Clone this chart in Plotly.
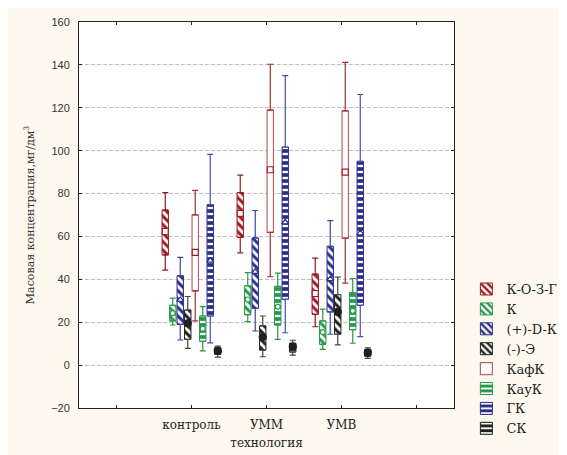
import plotly.graph_objects as go

categories = ["контроль", "УММ", "УМВ"]
tick_labels = ["", "контроль", "УММ", "УМВ", ""]
series = ["К-О-З-Г", "К", "(+)-D-К", "(-)-Э", "КафК", "КауК", "ГК", "СК"]

# per series: values per category [контроль, УММ, УМВ]
minimum = {
    "К-О-З-Г": [44.3, 52.3, 17.9],
    "К": [18.7, 20.3, 7.3],
    "(+)-D-К": [11.7, 15.9, 14.4],
    "(-)-Э": [7.8, 3.9, 9.4],
    "КафК": [20.6, 41.2, 38.2],
    "КауК": [6.6, 12.0, 10.2],
    "ГК": [10.4, 15.1, 13.3],
    "СК": [3.7, 4.7, 3.1],
}
q1 = {
    "К-О-З-Г": [51.4, 59.6, 23.7],
    "К": [20.6, 23.5, 9.7],
    "(+)-D-К": [19.0, 26.5, 24.8],
    "(-)-Э": [12.0, 7.0, 14.4],
    "КафК": [34.6, 61.9, 59.2],
    "КауК": [11.1, 18.7, 16.5],
    "ГК": [22.9, 30.7, 27.9],
    "СК": [5.0, 6.1, 4.2],
}
median = {
    "К-О-З-Г": [62.3, 70.8, 33.4],
    "К": [24.2, 30.6, 15.4],
    "(+)-D-К": [30.4, 43.5, 40.1],
    "(-)-Э": [19.5, 13.1, 24.8],
    "КафК": [52.6, 91.1, 90.0],
    "КауК": [17.0, 27.3, 25.3],
    "ГК": [48.7, 66.6, 61.5],
    "СК": [6.6, 8.6, 5.8],
}
q3 = {
    "К-О-З-Г": [72.3, 80.4, 42.4],
    "К": [27.9, 37.0, 20.6],
    "(+)-D-К": [41.7, 59.3, 55.4],
    "(-)-Э": [25.7, 18.3, 32.9],
    "КафК": [70.1, 118.9, 118.6],
    "КауК": [22.9, 36.7, 33.8],
    "ГК": [74.8, 101.7, 95.0],
    "СК": [8.1, 10.2, 7.3],
}
maximum = {
    "К-О-З-Г": [80.4, 88.6, 49.9],
    "К": [31.2, 43.1, 26.1],
    "(+)-D-К": [50.2, 72.1, 67.4],
    "(-)-Э": [32.0, 22.9, 41.0],
    "КафК": [81.5, 140.3, 141.2],
    "КауК": [27.3, 42.9, 40.4],
    "ГК": [98.3, 135.0, 126.2],
    "СК": [8.9, 11.6, 8.1],
}

red = "#9e1b24"
green = "#27994a"
navy = "#2b2f8c"
black = "#202020"
pink = "#c06468"

style = {
    "К-О-З-Г": dict(color=red, shape="\\", edge=red, whisk="#8e1a1e", sym="square", mfill="white", mline=red, msize=6),
    "К": dict(color=green, shape="\\", edge=green, whisk=green, sym="circle", mfill="white", mline=green, msize=5),
    "(+)-D-К": dict(color=navy, shape="\\", edge=navy, whisk="#3f43a0", sym="triangle-up", mfill="white", mline=navy, msize=6),
    "(-)-Э": dict(color=black, shape="\\", edge=black, whisk="#444444", sym="circle", mfill=black, mline=black, msize=7),
    "КафК": dict(color="white", shape="", edge=pink, whisk="#a03036", sym="square", mfill="white", mline=red, msize=6),
    "КауК": dict(color=green, shape="-", edge=green, whisk=green, sym="circle", mfill="white", mline=green, msize=5),
    "ГК": dict(color=navy, shape="-", edge=navy, whisk="#4a4ea6", sym="triangle-up", mfill="white", mline=navy, msize=6),
    "СК": dict(color=black, shape="-", edge=black, whisk="#444444", sym="circle", mfill=black, mline=black, msize=7),
}

serif = "DejaVu Serif"
fig = go.Figure()
n = len(series)
for i, s in enumerate(series):
    st = style[s]
    xs = [c + 1 + (i - (n - 1) / 2) * 0.1 for c in range(len(categories))]
    heights = [b - a for a, b in zip(q1[s], q3[s])]
    if st["shape"]:
        if st["shape"] == "\\":
            pattern = dict(shape="\\", fgcolor=st["color"], bgcolor="white",
                           size=6, solidity=0.5, fillmode="replace")
        else:
            pattern = dict(shape="-", fgcolor=st["color"], bgcolor="white",
                           size=6, solidity=0.62, fillmode="replace")
        mk = dict(color=st["color"], pattern=pattern, line=dict(color=st["edge"], width=1))
    else:
        mk = dict(color="white", line=dict(color=st["edge"], width=1.2))
    fig.add_trace(go.Bar(x=xs, y=heights, base=q1[s], width=0.085, name=s,
                         marker=mk, hoverinfo="skip"))
    # upper whisker
    fig.add_trace(go.Scatter(
        x=xs, y=q3[s], mode="markers", marker=dict(color="rgba(0,0,0,0)", size=1),
        error_y=dict(type="data", symmetric=False,
                     array=[b - a for a, b in zip(q3[s], maximum[s])],
                     arrayminus=[0] * len(xs), color=st["whisk"], thickness=1.2, width=3),
        showlegend=False, hoverinfo="skip"))
    # lower whisker
    fig.add_trace(go.Scatter(
        x=xs, y=q1[s], mode="markers", marker=dict(color="rgba(0,0,0,0)", size=1),
        error_y=dict(type="data", symmetric=False,
                     array=[0] * len(xs),
                     arrayminus=[a - b for a, b in zip(q1[s], minimum[s])],
                     color=st["whisk"], thickness=1.2, width=3),
        showlegend=False, hoverinfo="skip"))
    # median marker
    fig.add_trace(go.Scatter(
        x=xs, y=median[s], mode="markers",
        marker=dict(symbol=st["sym"], size=st["msize"], color=st["mfill"],
                    line=dict(color=st["mline"], width=1.2)),
        showlegend=False, hoverinfo="skip"))

fig.update_layout(
    width=559, height=447,
    margin=dict(l=71, r=113, t=14, b=47, autoexpand=False),
    paper_bgcolor="#fef9ee",
    plot_bgcolor="white",
    barmode="overlay",
    showlegend=True,
    legend=dict(x=1.033, y=0.347, xanchor="left", yanchor="top",
                font=dict(family=serif, size=13, color="#222"),
                bgcolor="rgba(0,0,0,0)", tracegroupgap=0, itemwidth=30),
    font=dict(family=serif, color="#222"),
)
fig.update_xaxes(
    range=[-0.5, 4.5], tickvals=list(range(len(tick_labels))), ticktext=tick_labels,
    showgrid=False, zeroline=False, showline=True, linecolor="#222", linewidth=1,
    mirror="ticks", ticks="inside", ticklen=3, tickcolor="#222", ticklabelstandoff=6,
    tickfont=dict(family=serif, size=12, color="#222"),
    title=dict(text="технология", font=dict(family=serif, size=12, color="#222"), standoff=7),
    automargin=False,
)
fig.update_yaxes(
    range=[-20, 160], dtick=20, showgrid=True, gridcolor="#bdbdbd", griddash="4px,2px",
    gridwidth=1, zeroline=False, showline=True, linecolor="#222", linewidth=1,
    mirror="ticks", ticks="inside", ticklen=3, tickcolor="#222", ticklabelstandoff=6,
    tickfont=dict(family="Liberation Sans", size=11, color="#333"),
    title=dict(text="Масовая концентрация,мг/дм<sup>3</sup>",
               font=dict(family=serif, size=11, color="#333"), standoff=14),
    automargin=False,
)

fig.write_html("out.html")
